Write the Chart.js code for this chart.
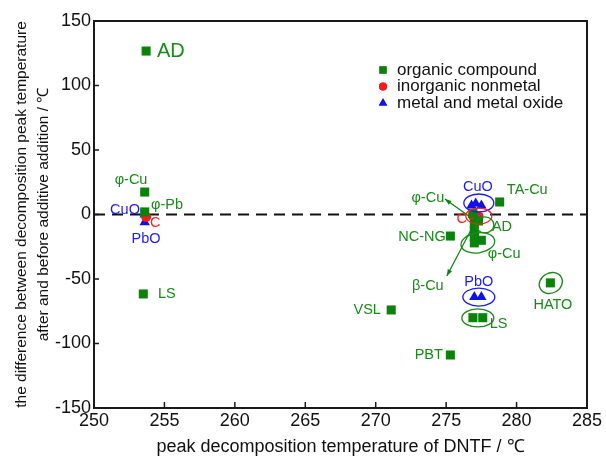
<!DOCTYPE html>
<html>
<head>
<meta charset="utf-8">
<script src="https://cdn.jsdelivr.net/npm/chart.js@4.4.1/dist/chart.umd.min.js"></script>
<style>
  html, body { margin: 0; padding: 0; background: #fff; }
  #wrap { width: 606px; height: 462px; position: relative; }
</style>
</head>
<body>
<div id="wrap"><canvas id="myChart"></canvas></div>
<script>
// axis ranges / ticks
const xTicks = [250, 255, 260, 265, 270, 275, 280, 285]
const yTicks = [-150, -100, -50, 0, 50, 100, 150]

// organic compound (green squares)
const organicX = [253.7, 253.6, 253.6, 253.5, 278.8, 275.3, 271.1, 275.3, 282.4, 276.9, 277.6, 277.0, 277.5, 277.0, 277.0, 277.0, 277.3, 276.9]
const organicY = [126.7, 17.4, 2, -61.6, 9.7, -16.7, -74, -108.9, -53, -80, -80, -22, -20, -7, -13, -17, -5, 1]

// inorganic nonmetal (red circles)
const inorganicX = [253.7, 276.9, 277.3]
const inorganicY = [-2, -1, -1.5]

// metal and metal oxide (blue triangles)
const metalX = [253.6, 253.6, 276.8, 277.1, 277.5, 277.0, 277.5]
const metalY = [0, -6, 7, 8.5, 7, -64, -64]

// text labels next to the points (data coordinates)
const labelText  = ['AD', 'φ-Cu', 'φ-Pb', 'CuO', 'C', 'PbO', 'LS',
                    'CuO', 'TA-Cu', 'φ-Cu', 'C', 'AD', 'NC-NG', 'φ-Cu', 'β-Cu', 'PbO', 'LS', 'HATO', 'VSL', 'PBT']
const labelX     = [254.47, 252.63, 255.18, 253.26, 253.97, 253.69, 254.54,
                    277.25, 279.31, 273.7, 276.47, 278.25, 274.98, 277.96, 273.7, 277.32, 278.1, 282.58, 270.37, 274.77]
const labelY     = [126.7, 26.7, 7.4, 3.5, -6.6, -19, -61.6,
                    21.3, 19, 12.8, -3.5, -9.7, -17.4, -30.6, -55.4, -52.3, -84.9, -70.2, -74, -108.9]
const labelKind  = ['o', 'o', 'o', 'm', 'i', 'm', 'o',
                    'm', 'o', 'o', 'i', 'o', 'o', 'o', 'o', 'm', 'o', 'o', 'o', 'o']
const labelAlign = ['left', 'center', 'center', 'right', 'left', 'center', 'left',
                    'center', 'left', 'center', 'right', 'left', 'right', 'left', 'center', 'center', 'left', 'center', 'right', 'right']

// ellipses round groups of points (centre in data coordinates)
const ringX    = [277.32, 277.32, 277.75, 277.25, 277.32, 277.25, 282.43]
const ringY    = [8.9, -1.2, -8.1, -22, -64, -80.2, -53.1]
const ringKind = ['m', 'i', 'o', 'o', 'm', 'o', 'o']

// arrows from the cluster to the φ-Cu / β-Cu labels
const arrowFrom = [[276.7, -2], [276.76, -12]]
const arrowTo   = [[274.91, 12], [275.05, -47.7]]

const GREEN = '#0b820b'
const RED = '#ff1a1a'
const BLUE = '#1010f0'
const kindColor = { o: '#188a18', i: '#ff2020', m: '#1a1aff' }
const FONT = '"Liberation Sans", Arial, sans-serif'

const toPoints = (xs, ys) => xs.map((x, i) => ({ x: x, y: ys[i] }))

const ringSize = [[15, 9, 0], [13, 8, 0], [9, 8, 0], [17, 10, -0.15], [16, 9, 0], [16, 9, 0], [12, 10, -0.5]]

const extras = {
  id: 'extras',
  afterDatasetsDraw(chart) {
    const { ctx, chartArea: a, scales: { x, y } } = chart
    ctx.save()
    // frame top/right
    ctx.strokeStyle = '#1a1a1a'
    ctx.lineWidth = 2
    ctx.beginPath()
    ctx.moveTo(a.left, a.top)
    ctx.lineTo(a.right, a.top)
    ctx.lineTo(a.right, a.bottom)
    ctx.stroke()
    // inward ticks
    ctx.lineWidth = 1.5
    ctx.beginPath()
    xTicks.slice(1, -1).forEach(v => {
      const px = x.getPixelForValue(v)
      ctx.moveTo(px, a.bottom)
      ctx.lineTo(px, a.bottom - 6)
    })
    yTicks.slice(1, -1).forEach(v => {
      const py = y.getPixelForValue(v)
      ctx.moveTo(a.left, py)
      ctx.lineTo(a.left + 5, py)
    })
    ctx.stroke()

    // ellipses
    ctx.lineWidth = 1.3
    ringX.forEach((rx, i) => {
      ctx.strokeStyle = kindColor[ringKind[i]]
      ctx.beginPath()
      ctx.ellipse(x.getPixelForValue(rx), y.getPixelForValue(ringY[i]), ringSize[i][0], ringSize[i][1], ringSize[i][2], 0, Math.PI * 2)
      ctx.stroke()
    })

    // arrows
    ctx.strokeStyle = GREEN
    ctx.fillStyle = GREEN
    ctx.lineWidth = 1.2
    arrowFrom.forEach((f, i) => {
      const x1 = x.getPixelForValue(f[0]), y1 = y.getPixelForValue(f[1])
      const x2 = x.getPixelForValue(arrowTo[i][0]), y2 = y.getPixelForValue(arrowTo[i][1])
      ctx.beginPath()
      ctx.moveTo(x1, y1)
      ctx.lineTo(x2, y2)
      ctx.stroke()
      const ang = Math.atan2(y2 - y1, x2 - x1)
      ctx.beginPath()
      ctx.moveTo(x2, y2)
      ctx.lineTo(x2 - 7 * Math.cos(ang - 0.35), y2 - 7 * Math.sin(ang - 0.35))
      ctx.lineTo(x2 - 7 * Math.cos(ang + 0.35), y2 - 7 * Math.sin(ang + 0.35))
      ctx.closePath()
      ctx.fill()
    })

    // point labels
    ctx.textBaseline = 'middle'
    labelText.forEach((t, i) => {
      ctx.font = (i === 0 ? 20 : 14.5) + 'px ' + FONT
      ctx.fillStyle = kindColor[labelKind[i]]
      ctx.textAlign = labelAlign[i]
      ctx.fillText(t, x.getPixelForValue(labelX[i]), y.getPixelForValue(labelY[i]))
    })

    // legend
    const names = chart.data.datasets.slice(0, 3)
    names.forEach((ds, i) => {
      const lx = 383, ly = 70 + i * 16.5
      ctx.fillStyle = ds.backgroundColor
      ctx.beginPath()
      Chart.helpers.drawPoint(ctx, { pointStyle: ds.pointStyle, radius: ds.pointRadius * 0.8, borderWidth: 0 }, lx, ly)
      ctx.fill()
      ctx.fillStyle = '#111'
      ctx.textAlign = 'left'
      ctx.font = '17px ' + FONT
      ctx.fillText(ds.label, 397, ly)
    })
    ctx.restore()
  }
}

new Chart(document.getElementById('myChart'), {
  type: 'scatter',
  data: {
    datasets: [
      {
        label: 'organic compound',
        data: toPoints(organicX, organicY),
        pointStyle: 'rect',
        pointRadius: 6.4,
        backgroundColor: GREEN,
        borderWidth: 0
      },
      {
        label: 'inorganic nonmetal',
        data: toPoints(inorganicX, inorganicY),
        pointStyle: 'circle',
        pointRadius: 5,
        backgroundColor: RED,
        borderWidth: 0
      },
      {
        label: 'metal and metal oxide',
        data: toPoints(metalX, metalY),
        pointStyle: 'triangle',
        pointRadius: 6,
        backgroundColor: BLUE,
        borderWidth: 0
      },
      {
        type: 'line',
        label: 'zero',
        data: [{ x: 250, y: 0 }, { x: 285, y: 0 }],
        borderColor: '#111',
        borderWidth: 2,
        borderDash: [11, 7],
        pointRadius: 0,
        order: 5
      }
    ]
  },
  options: {
    responsive: true,
    maintainAspectRatio: false,
    animation: false,
    layout: { padding: { top: 21, right: 19, left: 0, bottom: 0 } },
    plugins: {
      legend: { display: false },
      tooltip: { enabled: false }
    },
    scales: {
      x: {
        type: 'linear',
        min: 250,
        max: 285,
        afterBuildTicks: s => { s.ticks = xTicks.map(v => ({ value: v })) },
        afterFit: s => { s.height = 54 },
        grid: { drawOnChartArea: false, drawTicks: false },
        border: { color: '#1a1a1a', width: 2 },
        ticks: { color: '#111', padding: 2, font: { family: FONT, size: 18 } },
        title: {
          display: true,
          text: 'peak decomposition temperature of DNTF / ℃',
          color: '#111',
          font: { family: FONT, size: 18 },
          padding: { top: 0, bottom: 4 }
        }
      },
      y: {
        type: 'linear',
        min: -150,
        max: 150,
        afterBuildTicks: s => { s.ticks = yTicks.map(v => ({ value: v })) },
        afterFit: s => { s.width = 94 },
        grid: { drawOnChartArea: false, drawTicks: false },
        border: { color: '#1a1a1a', width: 2 },
        ticks: { color: '#111', padding: 3, font: { family: FONT, size: 18 } },
        title: {
          display: true,
          text: ['the difference between decomposition peak temperature', 'after and before additive addition / ℃'],
          color: '#111',
          font: { family: FONT, size: 15.5, lineHeight: 1.4 },
          padding: { top: 11, bottom: 0 }
        }
      }
    }
  },
  plugins: [extras]
})
</script>
</body>
</html>
